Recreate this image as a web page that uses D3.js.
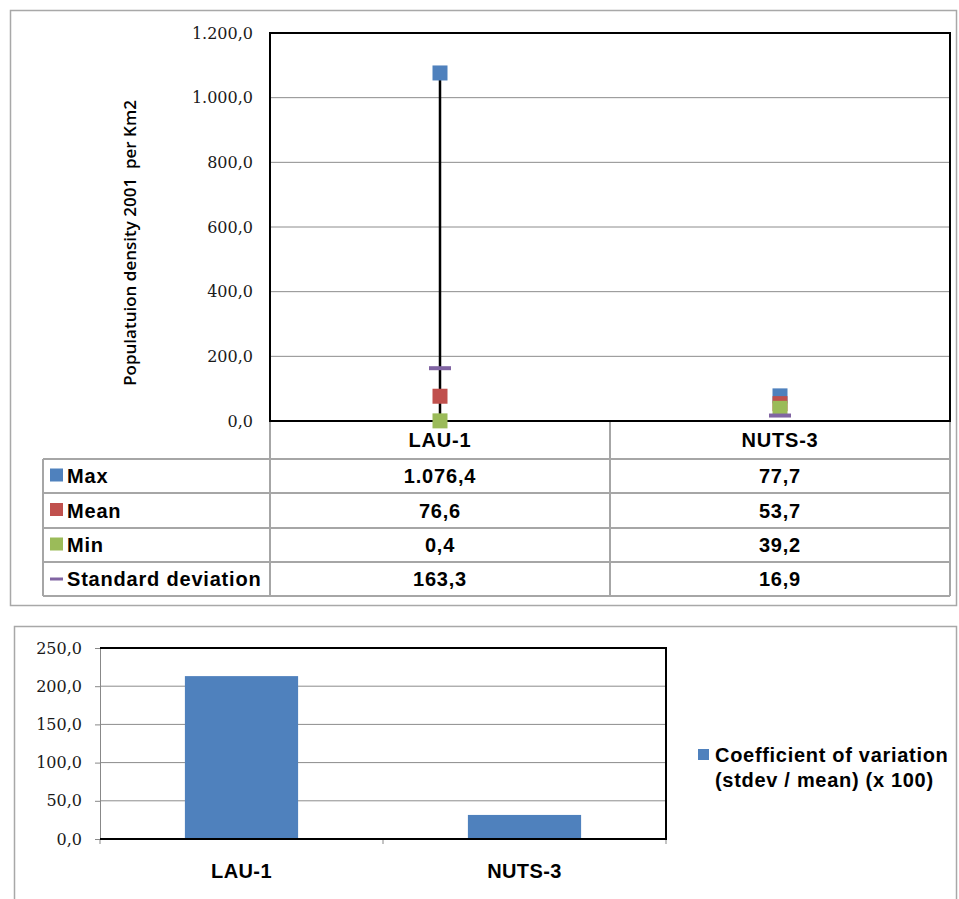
<!DOCTYPE html>
<html>
<head>
<meta charset="utf-8">
<script src="https://cdn.jsdelivr.net/npm/d3@7"></script>
<style>
  html, body { margin: 0; padding: 0; background: #fff; }
  svg { display: block; }
  .tick-label { font-family: "DejaVu Serif", serif; font-size: 16px; fill: #1a1a1a; }
  .bold { font-family: "Liberation Sans", Arial, sans-serif; font-weight: bold; fill: #000; }
  .cell { letter-spacing: 0.8px; }
</style>
</head>
<body>
<svg id="chart" width="959" height="899"></svg>
<script>
// Regions compared
const categories = ["LAU-1", "NUTS-3"];

// Population density 2001 (per km2) summary statistics
const seriesNames = ["Max", "Mean", "Min", "Standard deviation"];
const maxValues = [1076.4, 77.7];
const meanValues = [76.6, 53.7];
const minValues = [0.4, 39.2];
const sdValues = [163.3, 16.9];
const seriesColors = ["#4F81BD", "#C0504D", "#9BBB59", "#8064A2"];
const densityTicks = [0, 200, 400, 600, 800, 1000, 1200];

// Coefficient of variation (stdev / mean) x 100
const cvValues = [213.2, 31.5];
const cvTicks = [0, 50, 100, 150, 200, 250];
const cvLabel = ["Coefficient of variation", "(stdev / mean) (x 100)"];

const locale = d3.formatLocale({ decimal: ",", thousands: ".", grouping: [3], currency: ["", ""] });
const fmt = locale.format(",.1f");

const svg = d3.select("#chart");

// ---------- Panel frames ----------
svg.append("rect").attr("x", 10.5).attr("y", 10.5).attr("width", 946).attr("height", 595)
  .attr("fill", "#fff").attr("stroke", "#a8a8a8").attr("stroke-width", 1.5);
svg.append("rect").attr("x", 14.5).attr("y", 626.5).attr("width", 942).attr("height", 290)
  .attr("fill", "#fff").attr("stroke", "#a8a8a8").attr("stroke-width", 1.5);

// ---------- Top chart: high-low markers ----------
const upper = { left: 270, right: 950, top: 33, bottom: 421 };
const x1 = d3.scaleBand().domain(categories).range([upper.left, upper.right]).padding(0);
const y1 = d3.scaleLinear().domain([0, 1200]).range([upper.bottom, upper.top]);

// gridlines
svg.append("g").selectAll("line").data(densityTicks.slice(1, -1)).join("line")
  .attr("x1", upper.left).attr("x2", upper.right)
  .attr("y1", d => y1(d)).attr("y2", d => y1(d))
  .attr("stroke", "#8c8c8c").attr("stroke-width", 1);

// y axis tick labels
const yAxis1 = d3.axisLeft(y1).tickValues(densityTicks).tickFormat(fmt).tickSize(0).tickPadding(17);
const gy1 = svg.append("g").attr("transform", `translate(${upper.left},0)`).call(yAxis1);
gy1.select(".domain").remove();
gy1.selectAll("text").attr("class", "tick-label").attr("font-size", null).attr("font-family", null);

// y axis title
svg.append("text")
  .attr("transform", `translate(136,${243}) rotate(-90)`)
  .attr("text-anchor", "middle")
  .attr("xml:space", "preserve")
  .style("white-space", "pre")
  .style("font-family", "'Open Sans', sans-serif").style("font-weight", 600).style("font-size", "17px")
  .attr("fill", "#000")
  .text("Populatuion density 2001  per Km2");

// table grid (below plot)
const table = { left: 43, rows: [421, 459, 493, 528, 562, 596] };
const gridColor = "#a6a6a6";
const tg = svg.append("g").attr("stroke", gridColor).attr("stroke-width", 2);
table.rows.slice(1).forEach(r => {
  tg.append("line").attr("x1", table.left).attr("x2", upper.right).attr("y1", r).attr("y2", r);
});
tg.append("line").attr("x1", table.left).attr("x2", table.left).attr("y1", table.rows[1]).attr("y2", table.rows[5]);
[upper.left, upper.left + x1.step(), upper.right].forEach(xv => {
  tg.append("line").attr("x1", xv).attr("x2", xv).attr("y1", upper.bottom).attr("y2", table.rows[5]);
});

// plot frame
svg.append("rect").attr("x", upper.left).attr("y", upper.top)
  .attr("width", upper.right - upper.left).attr("height", upper.bottom - upper.top)
  .attr("fill", "none").attr("stroke", "#000").attr("stroke-width", 2);

// high-low lines
const cx = c => x1(c) + x1.bandwidth() / 2;
svg.append("g").selectAll("line").data(categories).join("line")
  .attr("x1", cx).attr("x2", cx)
  .attr("y1", (c, i) => y1(maxValues[i])).attr("y2", (c, i) => y1(minValues[i]))
  .attr("stroke", "#000").attr("stroke-width", 2.5);

// square markers for max / mean / min, dash for standard deviation
const squareSeries = [maxValues, meanValues, minValues];
const msize = 15;
squareSeries.forEach((vals, s) => {
  svg.append("g").selectAll("rect").data(categories).join("rect")
    .attr("x", c => cx(c) - msize / 2)
    .attr("y", (c, i) => y1(vals[i]) - msize / 2)
    .attr("width", msize).attr("height", msize)
    .attr("fill", seriesColors[s]);
});
svg.append("g").selectAll("rect").data(categories).join("rect")
  .attr("x", c => cx(c) - 11)
  .attr("y", (c, i) => y1(sdValues[i]) - 2)
  .attr("width", 22).attr("height", 4)
  .attr("fill", seriesColors[3]);

// table header (category names)
svg.append("g").selectAll("text").data(categories).join("text")
  .attr("class", "bold cell").attr("x", cx).attr("y", (table.rows[0] + table.rows[1]) / 2 + 7)
  .attr("text-anchor", "middle").style("font-size", "20px")
  .text(d => d);

// table rows
const rowValues = [maxValues, meanValues, minValues, sdValues];
seriesNames.forEach((name, r) => {
  const yc = (table.rows[r + 1] + table.rows[r + 2]) / 2;
  if (r < 3) {
    svg.append("rect").attr("x", 50).attr("y", yc - 7.5).attr("width", 13).attr("height", 13)
      .attr("fill", seriesColors[r]);
  } else {
    svg.append("rect").attr("x", 50).attr("y", yc - 1.5).attr("width", 13).attr("height", 3)
      .attr("fill", seriesColors[r]);
  }
  svg.append("text").attr("class", "bold cell").attr("x", 67).attr("y", yc + 7)
    .style("font-size", "20px").text(name);
  svg.append("g").selectAll("text").data(categories).join("text")
    .attr("class", "bold cell").attr("x", cx).attr("y", yc + 7)
    .attr("text-anchor", "middle").style("font-size", "20px")
    .text((c, i) => fmt(rowValues[r][i]));
});

// ---------- Bottom chart: coefficient of variation ----------
const lower = { left: 100, right: 666, top: 648, bottom: 839 };
const x2 = d3.scaleBand().domain(categories).range([lower.left, lower.right]).paddingInner(0.6).paddingOuter(0.3);
const x2ticks = d3.scaleBand().domain(categories).range([lower.left, lower.right]).padding(0);
const y2 = d3.scaleLinear().domain([0, 250]).range([lower.bottom, lower.top]);

svg.append("g").selectAll("line").data(cvTicks.slice(1, -1)).join("line")
  .attr("x1", lower.left).attr("x2", lower.right)
  .attr("y1", d => y2(d)).attr("y2", d => y2(d))
  .attr("stroke", "#8c8c8c").attr("stroke-width", 1);

const yAxis2 = d3.axisLeft(y2).tickValues(cvTicks).tickFormat(fmt).tickSize(5).tickPadding(13);
const gy2 = svg.append("g").attr("transform", `translate(${lower.left},0)`).call(yAxis2);
gy2.select(".domain").attr("stroke", "#888");
gy2.selectAll("line").attr("stroke", "#888");
gy2.selectAll("text").attr("class", "tick-label").attr("font-size", null).attr("font-family", null);

// category tick marks under the axis
const bounds = [lower.left, lower.left + x2ticks.step(), lower.right];
svg.append("g").selectAll("line").data(bounds).join("line")
  .attr("x1", d => d).attr("x2", d => d).attr("y1", lower.bottom).attr("y2", lower.bottom + 5)
  .attr("stroke", "#888");

svg.append("g").selectAll("rect").data(categories).join("rect")
  .attr("x", c => x2(c)).attr("width", x2.bandwidth())
  .attr("y", (c, i) => y2(cvValues[i])).attr("height", (c, i) => lower.bottom - y2(cvValues[i]))
  .attr("fill", "#4F81BD");

// frame: top, right, bottom in black
svg.append("path")
  .attr("d", `M${lower.left},${lower.top}H${lower.right}V${lower.bottom}H${lower.left}`)
  .attr("fill", "none").attr("stroke", "#000").attr("stroke-width", 2);

svg.append("g").selectAll("text").data(categories).join("text")
  .attr("class", "bold").attr("x", c => x2(c) + x2.bandwidth() / 2).attr("y", 878)
  .attr("text-anchor", "middle").style("font-size", "20px").style("letter-spacing", "0.4px")
  .text(d => d);

// legend
svg.append("rect").attr("x", 698).attr("y", 749).attr("width", 11).attr("height", 11).attr("fill", "#4F81BD");
svg.append("text").attr("class", "bold").attr("x", 715).attr("y", 762)
  .style("font-size", "20px").style("letter-spacing", "0.7px").text(cvLabel[0]);
svg.append("text").attr("class", "bold").attr("x", 715).attr("y", 787)
  .style("font-size", "20px").style("letter-spacing", "0.7px").text(cvLabel[1]);
</script>
</body>
</html>
